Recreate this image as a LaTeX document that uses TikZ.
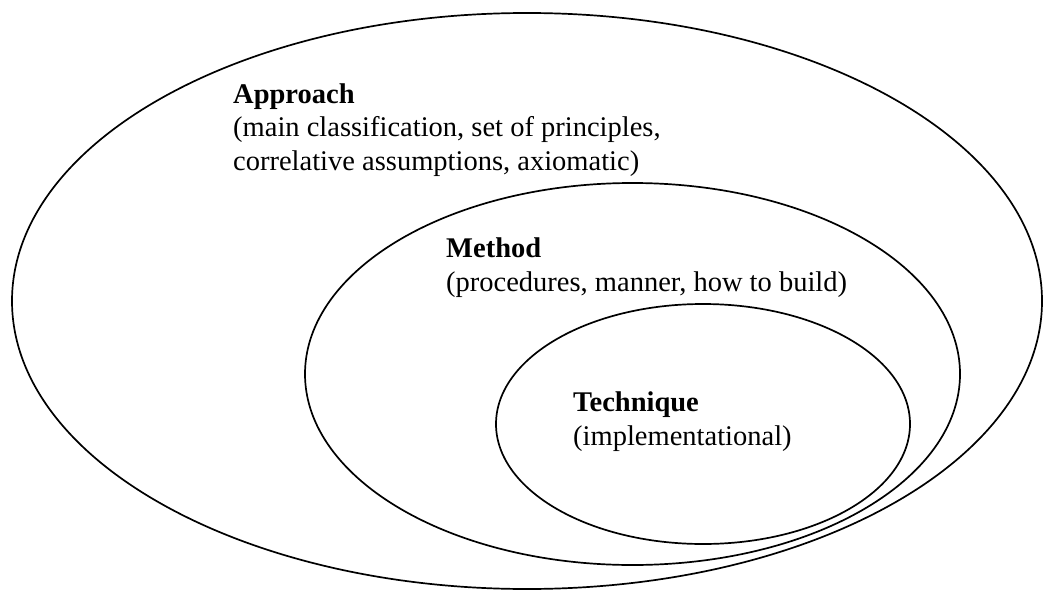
\documentclass[tikz,border=0pt]{standalone}
\usepackage{fontspec}
\setmainfont{Liberation Serif}
\begin{document}
\begin{tikzpicture}[x=1pt,y=-1pt,
  ring/.style={draw=black,line width=1.7pt},
  label/.style={anchor=base west,align=left,inner sep=0pt,
    font=\fontsize{28.5}{33.5}\selectfont}]
\useasboundingbox (0,0) rectangle (1043,591);
% nested ellipses: approach, method, technique
\draw[ring] (527,301) ellipse [x radius=515pt, y radius=288pt];
\draw[ring] (632.5,374) ellipse [x radius=327.5pt, y radius=191pt];
\draw[ring] (703,424) ellipse [x radius=207pt, y radius=120pt];
% labels (anchored at the baseline of their last line)
\node[label] (approach) at (233,170)
  {\textbf{Approach}\\(main classification, set of principles,\\correlative assumptions, axiomatic)};
\node[label] (method) at (446,291)
  {\textbf{Method}\\(procedures, manner, how to build)};
\node[label] (technique) at (573,445)
  {\textbf{Technique}\\(implementational)};
\end{tikzpicture}
\end{document}
